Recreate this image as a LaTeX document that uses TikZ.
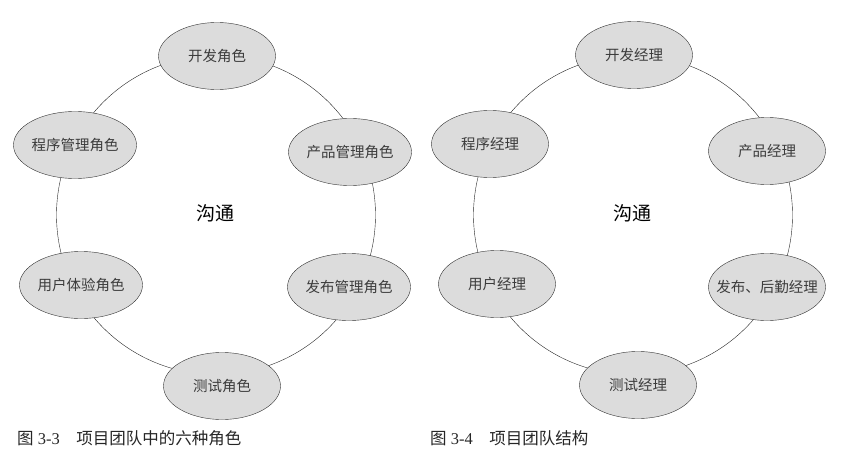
\documentclass[tikz,border=0pt]{standalone}
\usepackage{fontspec}
\usepackage{xcolor}
\usetikzlibrary{positioning, shapes.geometric}
\setmainfont{Liberation Serif}
\newfontfamily\cjk{Noto Sans CJK SC}
\definecolor{roleFill}{RGB}{220, 220, 220}
\definecolor{roleText}{RGB}{60, 60, 60}

\begin{document}
\begin{tikzpicture}[
        x=1pt, y=-1pt,
        ring/.style={
            circle, draw=black!85, thin, minimum size=319pt, inner sep=0pt
        },
        talk/.style={
            font=\cjk\fontsize{19}{22}\selectfont
        },
        role/.style={
            ellipse, draw=black!80, thin, fill=roleFill, text=roleText,
            minimum width=117pt, minimum height=67pt, inner sep=0pt,
            font=\cjk\fontsize{14.5}{17}\selectfont
        },
        caption/.style={
            anchor=west, inner sep=0pt, text=black!85,
            font=\fontsize{16.5}{19}\selectfont
        }
    ]

    \useasboundingbox (0,0) rectangle (856,471);

    % LEFT: SIX ROLES
    \node[ring] (ringL) at (216,215) {};
    \node[talk] (talkL) at (215,213) {沟通};

    \node[role] (devL)  at (217,56)  {开发角色};
    \node[role] (pgmL)  at (75,145)  {程序管理角色};
    \node[role] (prodL) at (350,152) {产品管理角色};
    \node[role] (uxL)   at (81,285)  {用户体验角色};
    \node[role] (relL)  at (349,287) {发布管理角色};
    \node[role] (testL) at (222,386) {测试角色};

    \node[caption] (capL) at (17,438) {{\cjk 图} 3-3\quad{\cjk 项目团队中的六种角色}};

    % RIGHT: TEAM STRUCTURE
    \node[ring] (ringR) at (633,215) {};
    \node[talk] (talkR) at (632,213) {沟通};

    \node[role] (devR)  at (634,55)  {开发经理};
    \node[role] (pgmR)  at (490,144) {程序经理};
    \node[role] (prodR) at (767,151) {产品经理};
    \node[role] (uxR)   at (497,284) {用户经理};
    \node[role] (relR)  at (767,287) {\makebox[0pt]{发布、后勤经理}};
    \node[role] (testR) at (638,385) {测试经理};

    \node[caption] (capR) at (430,438) {{\cjk 图} 3-4\quad{\cjk 项目团队结构}};

\end{tikzpicture}
\end{document}
